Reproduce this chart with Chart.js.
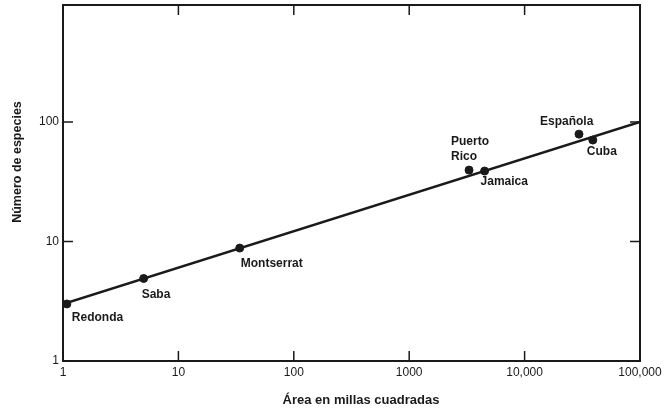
<!DOCTYPE html>
<html>
<head>
<meta charset="utf-8">
<script src="https://cdn.jsdelivr.net/npm/chart.js@4"></script>
<style>
  html, body { margin: 0; padding: 0; background: #fff; }
  canvas { display: block; }
</style>
</head>
<body>
<canvas id="speciesAreaChart" width="670" height="416"></canvas>
<script>
// Islands of the Caribbean: area (sq. miles) vs. number of species
const islandNames = ['Redonda', 'Saba', 'Montserrat', 'Puerto\nRico', 'Jamaica', 'Española', 'Cuba'];
const islandAreas = [1.08, 5, 34, 3300, 4500, 29600, 39000];
const islandSpecies = [3, 4.9, 8.8, 39.5, 38.8, 79, 70.5];

// Fitted line ends
const fitAreas = [1, 100000];
const fitSpecies = [3, 100];

// Tick labels
const xTickValues = [1, 10, 100, 1000, 10000, 100000];
const xTickLabels = ['1', '10', '100', '1000', '10,000', '100,000'];
const yTickValues = [1, 10, 100];
const yTickLabels = ['1', '10', '100'];

// Label offsets (px) from each point
const labelOffsets = [[5, 14], [-2, 16], [1, 16], [-18, -28], [-4, 11], [-39, -12], [-6, 12]];

const ink = '#1a1a1a';
const fontFamily = "'Liberation Sans', Arial, Helvetica, sans-serif";

// Frame, inward ticks, point labels and axis titles
const decorations = {
    id: 'decorations',
    afterDatasetsDraw(chart) {
        const ctx = chart.ctx;
        const area = chart.chartArea;
        const x = chart.scales.x;
        const y = chart.scales.y;
        const tick = 10;

        ctx.save();
        ctx.strokeStyle = ink;
        ctx.lineWidth = 2;
        ctx.strokeRect(area.left, area.top, area.right - area.left, area.bottom - area.top);

        ctx.lineWidth = 1.5;
        ctx.beginPath();
        xTickValues.forEach(v => {
            let px = x.getPixelForValue(v);
            ctx.moveTo(px, area.bottom);
            ctx.lineTo(px, area.bottom - tick);
            ctx.moveTo(px, area.top);
            ctx.lineTo(px, area.top + tick);
        });
        yTickValues.forEach(v => {
            let py = y.getPixelForValue(v);
            ctx.moveTo(area.left, py);
            ctx.lineTo(area.left + tick, py);
            ctx.moveTo(area.right, py);
            ctx.lineTo(area.right - tick, py);
        });
        ctx.stroke();

        // Island names
        ctx.fillStyle = ink;
        ctx.font = 'bold 12px ' + fontFamily;
        ctx.textAlign = 'left';
        ctx.textBaseline = 'middle';
        islandNames.forEach((name, i) => {
            let px = x.getPixelForValue(islandAreas[i]) + labelOffsets[i][0];
            let py = y.getPixelForValue(islandSpecies[i]) + labelOffsets[i][1];
            name.split('\n').forEach((line, j) => {
                ctx.fillText(line, px, py + j * 15);
            });
        });

        // Axis titles
        ctx.textAlign = 'center';
        ctx.font = 'bold 13px ' + fontFamily;
        ctx.fillText('Área en millas cuadradas', 361, 400);

        ctx.save();
        ctx.translate(18, 162);
        ctx.rotate(-Math.PI / 2);
        ctx.font = 'bold 12.5px ' + fontFamily;
        ctx.fillText('Número de especies', 0, 0);
        ctx.restore();

        ctx.restore();
    }
};

const config = {
    data: {
        datasets: [{
            type: 'line',
            data: fitAreas.map((a, i) => ({ x: a, y: fitSpecies[i] })),
            borderColor: ink,
            borderWidth: 2.5,
            pointRadius: 0,
            fill: false
        }, {
            type: 'scatter',
            data: islandAreas.map((a, i) => ({ x: a, y: islandSpecies[i] })),
            backgroundColor: ink,
            borderColor: ink,
            pointRadius: 4,
            clip: false
        }]
    },
    options: {
        responsive: false,
        animation: false,
        layout: {
            padding: { top: 5, right: 30, left: 0, bottom: 0 }
        },
        plugins: {
            legend: { display: false },
            tooltip: { enabled: false }
        },
        scales: {
            x: {
                type: 'logarithmic',
                min: 1,
                max: 100000,
                grid: { display: false, drawTicks: false },
                border: { display: false },
                afterBuildTicks: scale => {
                    scale.ticks = xTickValues.map(v => ({ value: v }));
                },
                afterFit: scale => {
                    scale.height = 55;
                    scale.paddingLeft = 0;
                    scale.paddingRight = 0;
                },
                ticks: {
                    autoSkip: false,
                    maxRotation: 0,
                    padding: 4,
                    color: ink,
                    font: { family: fontFamily, size: 12 },
                    callback: value => xTickLabels[xTickValues.indexOf(value)]
                }
            },
            y: {
                type: 'logarithmic',
                min: 1,
                max: 950,
                grid: { display: false, drawTicks: false },
                border: { display: false },
                afterBuildTicks: scale => {
                    scale.ticks = yTickValues.map(v => ({ value: v }));
                },
                afterFit: scale => {
                    scale.width = 63;
                    scale.paddingTop = 0;
                    scale.paddingBottom = 0;
                },
                ticks: {
                    padding: 4,
                    color: ink,
                    font: { family: fontFamily, size: 12 },
                    callback: value => yTickLabels[yTickValues.indexOf(value)]
                }
            }
        }
    },
    plugins: [decorations]
};

// Draw Chart
new Chart(document.getElementById('speciesAreaChart'), config);
</script>
</body>
</html>
